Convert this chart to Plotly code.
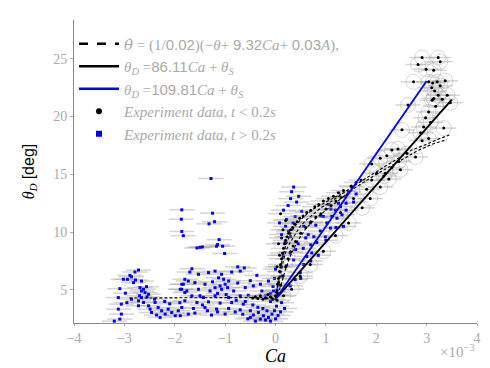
import plotly.graph_objects as go

# ---------------- data (Ca in units of 1e-3, theta in degrees) ----------------
blue_ca = [
    -2.72,-2.79,-2.89,-3.02,-2.94,-2.86,-2.78,-2.66,-2.82,-2.69,-2.62,-2.56,-2.66,-2.59,-2.52,-3.09,-2.98,-3.12,-2.86,-2.72,
    -2.66,-2.62,-2.72,-2.52,-2.49,-3.06,-3.12,-3.06,-3.09,-2.39,-2.33,-2.46,-2.26,-2.19,-2.13,-2.06,-1.99,-1.93,-1.89,-1.80,
    -1.86,-1.80,-2.36,-2.29,-3.20,-2.55,-2.70,-2.95,-2.40,-2.20,-2.10,
    -1.66,-1.70,-1.53,-1.33,-1.20,-1.07,-0.87,-0.70,-0.37,-0.14,-1.13,-1.03,-0.93,-1.00,-1.10,-1.20,-1.40,-1.60,-1.73,-1.83,
    -1.86,-1.76,-1.53,-1.30,-1.07,-0.83,-0.60,-0.44,-0.27,-1.66,-1.43,-1.20,-0.93,-0.70,-0.54,-1.80,-1.56,-1.33,-1.10,-0.87,
    -0.64,-1.86,-1.63,-1.40,-1.17,-0.93,-0.70,-0.50,-0.34,-0.17,-1.73,-1.27,-1.00,-0.50,-0.30,-0.14,-0.44,-0.24,-0.07,-1.89,
    -1.25,-1.15,-0.98,-0.78,-0.60,-0.45,-0.35,-0.25,-0.20,-0.10,0.00,0.05,0.10,-0.40,-0.55,-0.65,-0.80,-1.50,-1.45,-1.35,
    -1.90,-1.60,-1.15,-0.95,-0.75,-0.50,-0.30,-0.20,-0.10,0.02,0.12,0.18,-0.02,
    -1.28,-1.86,-1.87,-1.25,-1.32,-1.21,-1.86,-1.83,-1.56,-1.50,-1.45,-1.12,-1.15,-1.05,-1.17,-1.01,-0.75,-0.62,
    -0.05,-0.02,0.00,0.03,-0.10,
    1.12,1.19,1.29,1.39,1.45,1.52,1.09,0.99,0.89,0.82,0.72,0.62,0.56,0.49,0.39,0.29,0.16,0.22,0.26,0.19,
    0.29,0.36,0.22,0.13,0.06,-0.04,0.56,0.69,0.76,0.95,1.02,1.22,1.32,1.35,0.42,0.46,0.52,0.39,0.36,0.32,
    0.30,0.25,0.45,0.60,0.70,0.85,0.50,0.70,1.00,1.20,1.10,1.25,0.65,0.80,0.90,1.05,0.15,0.10,0.20,0.35,
    0.40,0.55,0.30,0.12,0.08,1.40,1.55,1.60,1.40,
]
blue_theta = [
    6.72,6.55,6.26,5.92,5.92,6.14,5.86,5.77,5.63,5.20,5.06,5.28,4.91,4.77,4.63,5.11,4.72,4.34,4.20,4.06,
    4.34,3.91,3.63,3.63,3.34,3.77,3.34,2.91,2.48,3.91,3.48,3.05,3.20,2.91,3.34,3.05,2.77,3.20,5.06,4.77,
    5.49,5.92,2.83,2.62,2.30,4.40,4.50,3.90,4.20,4.00,3.80,
    6.83,6.55,6.35,6.50,6.63,6.35,6.55,6.63,6.26,5.77,6.05,5.92,5.77,5.49,5.35,5.20,5.49,5.63,5.77,5.49,
    5.06,4.91,5.06,4.91,5.06,4.91,5.20,5.35,4.91,4.49,4.34,4.49,4.34,4.49,4.54,4.06,3.91,3.97,3.86,3.91,
    3.77,3.48,3.40,3.48,3.34,3.40,3.28,3.20,3.05,3.20,2.91,2.83,2.91,2.62,2.48,2.62,2.83,2.77,2.91,2.77,
    5.70,4.70,4.60,4.10,4.00,3.70,3.50,3.40,2.40,2.30,2.50,2.80,3.10,2.30,2.50,2.90,3.10,4.50,3.70,3.20,
    3.90,3.00,3.10,5.20,5.60,5.80,5.50,4.50,4.00,3.60,3.90,3.40,3.20,
    14.64,11.93,11.12,11.64,10.72,10.90,10.06,9.69,8.63,8.69,8.72,9.35,8.92,8.78,8.78,8.15,7.00,6.90,
    5.30,6.00,6.80,5.00,4.70,
    11.35,11.90,12.20,13.10,13.50,13.90,10.35,9.60,10.10,9.10,8.20,7.90,7.20,6.50,5.90,5.35,11.90,11.10,10.10,9.10,
    8.20,7.60,7.10,6.20,5.60,4.90,10.50,10.80,9.60,11.35,10.80,11.20,11.50,10.50,12.60,13.10,11.80,11.35,13.90,13.50,
    12.90,12.30,9.00,9.50,8.90,8.00,6.00,7.50,9.30,10.40,12.00,12.50,9.80,10.60,11.40,12.40,8.00,7.00,10.50,10.80,
    8.50,8.60,9.60,9.80,10.80,11.90,12.60,13.30,12.50,
]

# black points shown with uncertainty ellipses
black_unc_ca = [
    2.91,2.83,3.23,3.27,2.99,3.14,2.74,3.04,3.12,3.21,3.27,3.37,3.10,3.16,3.23,3.41,3.14,3.31,3.47,2.63,
    3.18,3.11,3.04,2.98,3.08,2.94,3.34,2.88,3.04,2.91,2.51,2.43,2.31,2.61,2.78,2.21,2.08,1.91,2.45,2.31,
    2.48,2.18,2.01,2.25,1.91,2.08,1.81,1.88,2.15,
    1.45,1.29,1.55,1.72,1.19,0.95,0.69,0.49,0.32,0.16,
]
black_unc_theta = [
    25.1,24.5,25.1,24.74,24.1,24.0,23.0,23.0,22.9,23.0,22.66,23.1,22.5,22.2,21.85,21.85,21.57,21.5,21.2,21.0,
    20.9,21.4,20.4,19.9,19.5,19.1,19.0,18.6,18.1,17.9,18.85,17.2,17.1,16.8,16.5,16.6,16.4,15.9,16.1,15.6,
    15.4,15.1,15.1,14.6,14.5,13.9,13.7,12.9,14.85,
    10.8,11.7,12.9,12.1,9.7,8.35,7.2,6.2,5.06,4.5,
]
# black points along the transition curve
black_ca = [
    0.02,0.04,0.06,0.08,0.10,0.12,0.14,0.16,0.18,0.20,0.23,0.26,0.30,0.34,0.38,0.43,0.48,0.55,0.62,0.70,
    0.78,0.86,0.95,1.05,1.15,1.25,1.35,1.50,1.60,1.70,0.05,0.10,0.15,0.20,0.25,0.30,0.35,0.40,0.50,0.60,
    0.70,0.80,0.90,1.00,1.10,1.20,1.30,0.08,0.12,0.15,0.20,0.10,0.03,0.06,
    -0.40,-0.30,-0.20,-0.15,-0.10,-0.05,0.00,0.03,-0.25,-0.35,-0.45,
]
black_theta = [
    4.8,5.5,6.0,6.6,7.2,7.7,8.2,8.6,9.0,9.3,9.6,9.9,10.2,10.4,10.7,10.9,11.2,11.4,11.7,11.9,
    12.2,12.4,12.7,12.9,13.1,13.4,13.6,14.0,14.3,14.5,4.6,5.4,6.2,7.0,7.7,8.3,8.8,9.2,9.9,10.4,
    10.9,11.3,11.6,12.0,12.3,12.7,13.0,8.0,9.5,10.2,11.0,11.6,7.0,9.0,
    4.4,4.5,4.3,4.6,4.4,4.2,4.5,4.1,4.2,4.25,4.3,
]

# model curves (dashed)
model1_ca = [-2.9,-0.3,-0.1,0.0,0.05,0.10,0.16,0.22,0.29,0.40,0.49,0.60,0.76,0.90,1.09,1.25,1.45,1.70,2.10,2.40,2.70,3.00,3.20,3.45]
model1_theta = [4.3,4.3,4.35,4.4,5.3,6.3,7.6,8.5,9.1,9.9,10.5,11.0,11.6,12.1,12.6,13.1,13.7,14.4,15.5,16.3,17.1,17.6,18.0,18.4]
model2_ca = [-0.2,0.0,0.10,0.20,0.30,0.45,0.60,0.80,1.00,1.30,1.60,2.00,2.40,2.80,3.10,3.40]
model2_theta = [4.25,4.2,5.3,6.8,8.0,9.3,10.3,11.2,11.9,12.9,13.9,15.0,16.0,17.0,17.6,18.0]
model3_ca = [-0.2,0.0,0.05,0.12,0.20,0.30,0.40,0.55,0.75,1.00,1.30]
model3_theta = [4.3,4.3,5.6,7.4,8.8,9.9,10.6,11.3,12.0,12.6,13.3]

# linear fits
fit86_ca = [0.0, 3.5]
fit86_theta = [4.2, 21.47]
fit110_ca = [0.0, 3.0]
fit110_theta = [4.2, 23.07]

x_ticks = [-4, -3, -2, -1, 0, 1, 2, 3, 4]
y_ticks = [5, 10, 15, 20, 25]

# ---------------- figure ----------------
GRAY = "#aaaaaa"
SERIF = "Liberation Serif"
SANS = "Liberation Sans"
ERR = dict(type="constant", value=0.25, color="rgba(150,150,150,0.4)", thickness=1.5, width=0)

fig = go.Figure()

fig.add_trace(go.Scatter(x=black_unc_ca, y=black_unc_theta, mode="markers", showlegend=False,
                         marker=dict(symbol="circle-open", size=15, color="rgba(170,170,170,0.6)", line=dict(width=0.8)),
                         hoverinfo="skip"))
fig.add_trace(go.Scatter(x=blue_ca, y=blue_theta, mode="markers", showlegend=False, error_x=ERR,
                         marker=dict(symbol="square", size=3, color="#0000ff")))
fig.add_trace(go.Scatter(x=black_unc_ca + black_ca, y=black_unc_theta + black_theta, mode="markers",
                         showlegend=False, error_x=ERR,
                         marker=dict(symbol="circle", size=3, color="black")))
for mc, mt in [(model1_ca, model1_theta), (model2_ca, model2_theta), (model3_ca, model3_theta)]:
    fig.add_trace(go.Scatter(x=mc, y=mt, mode="lines", showlegend=False,
                             line=dict(color="black", width=1.1, dash="3px,2px")))
fig.add_trace(go.Scatter(x=fit86_ca, y=fit86_theta, mode="lines", showlegend=False,
                         line=dict(color="black", width=1.8)))
fig.add_trace(go.Scatter(x=fit110_ca, y=fit110_theta, mode="lines", showlegend=False,
                         line=dict(color="#0000ff", width=1.8)))

def num(s):
    return f'<span style="font-family:{SANS}">{s}</span>'

legend_names = [
    f'<span style="font-family:DejaVu Serif;font-style:italic">θ̇</span> = (1/{num("0.02")})(−<i>θ</i>+ {num("9.32")}<i>Ca</i>+ {num("0.03")}<i>A</i>),',
    f"<i>θ<sub>D</sub></i> ={num('86.11')}<i>Ca</i> + <i>θ<sub>S</sub></i>",
    f"<i>θ<sub>D</sub></i> ={num('109.81')}<i>Ca</i> + <i>θ<sub>S</sub></i>",
    "<i>Experiment data, t</i> &lt; 0.2<i>s</i>",
    "<i>Experiment data, t</i> &gt; 0.2<i>s</i>",
]
fig.add_trace(go.Scatter(x=[None], y=[None], mode="lines", name=legend_names[0],
                         line=dict(color="black", width=2.5, dash="dash")))
fig.add_trace(go.Scatter(x=[None], y=[None], mode="lines", name=legend_names[1],
                         line=dict(color="black", width=2.5)))
fig.add_trace(go.Scatter(x=[None], y=[None], mode="lines", name=legend_names[2],
                         line=dict(color="#0000ff", width=2.5)))
fig.add_trace(go.Scatter(x=[None], y=[None], mode="markers", name=legend_names[3],
                         marker=dict(symbol="circle", size=6, color="black")))
fig.add_trace(go.Scatter(x=[None], y=[None], mode="markers", name=legend_names[4],
                         marker=dict(symbol="square", size=6, color="#0000ff")))

fig.update_layout(
    width=490, height=368,
    margin=dict(l=66, r=21, t=12, b=53, autoexpand=False),
    paper_bgcolor="white", plot_bgcolor="white",
    font=dict(family=SERIF, color=GRAY, size=14),
    legend=dict(x=0.0, y=0.975, xanchor="left", yanchor="top", bgcolor="rgba(0,0,0,0)",
                font=dict(family=SERIF, size=15, color=GRAY), itemwidth=40, tracegroupgap=0),
    xaxis=dict(range=[-4, 4], tickvals=x_ticks, ticktext=[("−" if v < 0 else "") + str(abs(v)) for v in x_ticks],
               automargin=False,
               showgrid=False, zeroline=False, showline=True, linecolor="#888888", linewidth=1,
               ticks="outside", ticklen=2, tickcolor="#aaaaaa",
               tickfont=dict(family=SERIF, size=14, color=GRAY),
               title=dict(text="<i>Ca</i>", font=dict(family=SERIF, size=18, color="black"), standoff=2)),
    yaxis=dict(range=[2.14, 28.35], tickvals=y_ticks, automargin=False,
               showgrid=False, zeroline=False, showline=True, linecolor="#888888", linewidth=1,
               ticks="outside", ticklen=3, tickcolor="#aaaaaa",
               tickfont=dict(family=SERIF, size=14, color=GRAY),
               title=dict(text=f"<i>θ<sub>D</sub></i> <span style=\"font-family:{SANS}\">[deg]</span>",
                          font=dict(family=SERIF, size=16, color="black"), standoff=14)),
    annotations=[dict(x=1.0, y=-0.055, xref="paper", yref="paper", xanchor="right", yanchor="top",
                      text="×10<sup>−3</sup>", showarrow=False,
                      font=dict(family=SERIF, size=15, color=GRAY))],
)

fig.write_html("out.html")
